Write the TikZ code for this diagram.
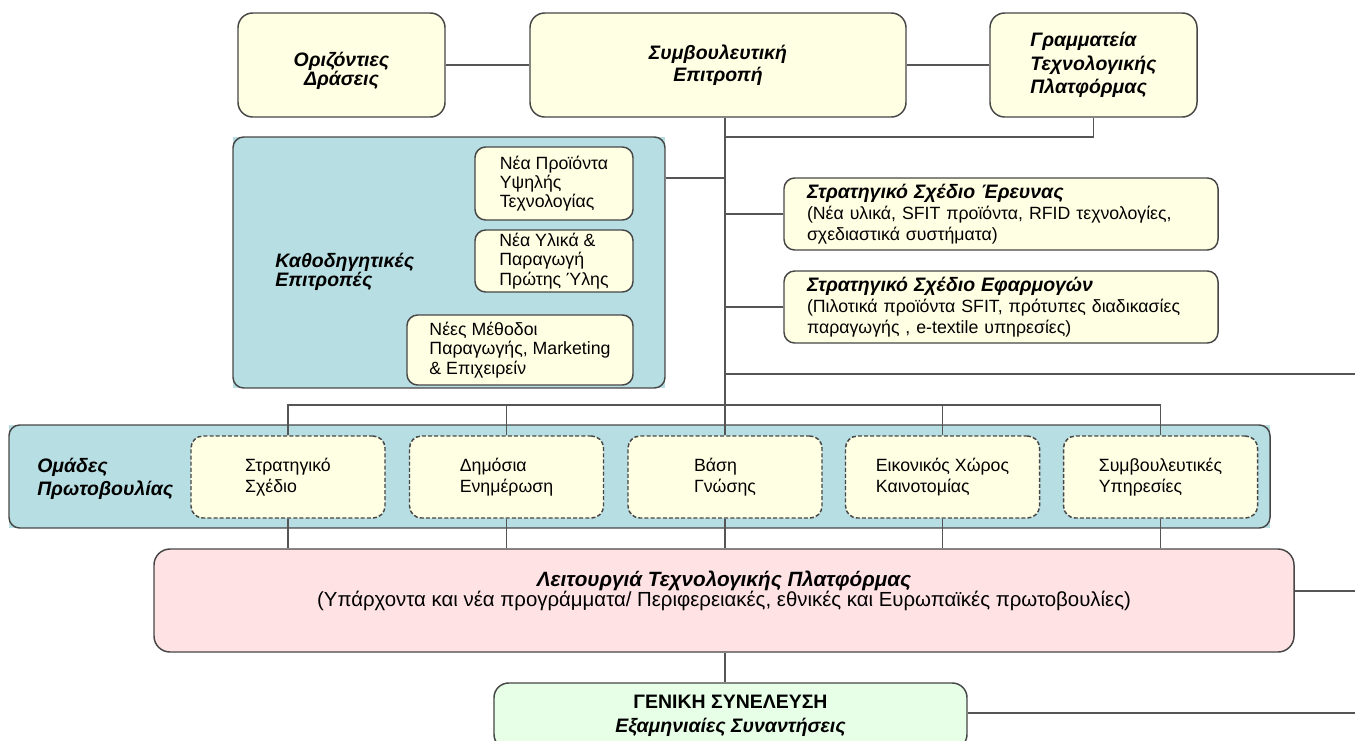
\documentclass[tikz,border=0pt]{standalone}
\usepackage{fontspec}
\setmainfont{Liberation Sans}
\definecolor{creamc}{RGB}{255,255,228}
\definecolor{tealc}{RGB}{183,222,226}
\definecolor{pinkc}{RGB}{255,226,228}
\definecolor{greenc}{RGB}{230,255,230}
\definecolor{linec}{RGB}{85,85,85}
\definecolor{bordc}{RGB}{70,70,70}
\newcommand\myhd{\fontsize{14.6}{16.2}\selectfont\bfseries\itshape}
\newcommand\myhdw{\fontsize{14.6}{17.6}\selectfont\bfseries\itshape}
\newcommand\myhdn{\fontsize{14.6}{13.8}\selectfont\bfseries\itshape}
\newcommand\myhdk{\fontsize{14.6}{14.5}\selectfont\bfseries\itshape}
\newcommand\mybd{\fontsize{13.3}{14.4}\selectfont}
\newcommand\mybdw{\fontsize{13.3}{15.8}\selectfont}
\begin{document}
\begin{tikzpicture}[x=0.75pt,y=-0.75pt,
  sz/.style n args={2}{minimum width=#1*0.75pt,minimum height=#2*0.75pt},
  box/.style={draw=bordc,line width=1.1pt,fill=creamc,rounded corners=11pt,inner sep=0pt,align=center},
  subbox/.style={draw=bordc,line width=1.1pt,fill=creamc,rounded corners=8pt,inner sep=0pt,align=left,font=\mybd},
  wide/.style={draw=bordc,line width=1.1pt,fill=creamc,rounded corners=8pt,inner sep=0pt,align=left,font=\mybdw},
  dbox/.style={draw=bordc,line width=1.1pt,fill=creamc,rounded corners=9pt,dash pattern=on 3pt off 1.6pt,inner sep=0pt,align=left,font=\mybdw},
  frame/.style={draw=bordc,line width=1.1pt,rounded corners=8pt,inner sep=0pt},
  lbl/.style={inner sep=0pt,align=left,anchor=west},
  conn/.style={draw=linec,line width=1.1pt}]
\useasboundingbox (0,0) rectangle (1355,740);
\clip (0,0) rectangle (1355,740);
\coordinate (spine) at (725,0);

% top row
\node[box,sz={207}{104}] (orz) at (341.5,65) {};
\node[inner sep=0pt,align=center,font=\myhdn] (orzt) at (341.5,71) {Οριζόντιες\\Δράσεις};
\node[box,sz={376}{104},font=\myhd] (symb) at (718,65) {Συμβουλευτική\\Επιτροπή};
\node[box,sz={207}{104},font=\myhdw,align=left] (gram) at (1093.5,65) {Γραμματεία\\Τεχνολογικής\\Πλατφόρμας};

% guiding committees
\fill[tealc] (233,137) rectangle (665,388);
\node[frame,sz={432}{251}] (kath) at (449,262.5) {};
\node[lbl,font=\myhdk] (kathl) at (275,272) {Καθοδηγητικές\\Επιτροπές};
\node[subbox,sz={158}{73}] (np) at (554,183.5) {Νέα Προϊόντα\\Υψηλής\\Τεχνολογίας};
\node[subbox,sz={158}{62}] (ny) at (554,261) {Νέα Υλικά \&\\Παραγωγή\\Πρώτης Ύλης};
\node[subbox,sz={226}{70}] (nm) at (520,350) {Νέες Μέθοδοι\\Παραγωγής, Marketing\\\& Επιχειρείν};

% strategic plans
\node[wide,sz={434}{72},text width=388*0.75pt] (ereu) at (1001,214) {{\myhd Στρατηγικό Σχέδιο Έρευνας}\\(Νέα υλικά, SFIT προϊόντα, RFID τεχνολογίες,\\σχεδιαστικά συστήματα)};
\node[wide,sz={434}{72},text width=388*0.75pt] (efar) at (1001,307) {{\myhd Στρατηγικό Σχέδιο Εφαρμογών}\\(Πιλοτικά προϊόντα SFIT, πρότυπες διαδικασίες\\παραγωγής , e-textile υπηρεσίες)};

% initiative groups
\fill[tealc] (9,425) rectangle (1270,528);
\node[frame,sz={1261}{103}] (omad) at (639.5,476.5) {};
\node[lbl,font=\fontsize{14.6}{17}\selectfont\bfseries\itshape] (omadl) at (37,479) {Ομάδες\\Πρωτοβουλίας};
\node[dbox,sz={194}{82}] (strat) at (288,477) {Στρατηγικό\\Σχέδιο};
\node[dbox,sz={194}{82}] (dimo) at (506.5,477) {Δημόσια\\Ενημέρωση};
\node[dbox,sz={194}{82}] (vasi) at (725,477) {Βάση\\Γνώσης};
\node[dbox,sz={194}{82}] (eik) at (942.5,477) {Εικονικός Χώρος\\Καινοτομίας};
\node[dbox,sz={194}{82}] (symv) at (1160.5,477) {Συμβουλευτικές\\Υπηρεσίες};

% platform operation
\node[box,fill=pinkc,sz={1140}{103},rounded corners=12pt] (pink) at (724,600.5) {};
\node[inner sep=0pt,align=center,font=\fontsize{15.3}{15.5}\selectfont] (pinkt) at (724,591) {{\fontsize{15.5}{15.5}\selectfont\bfseries\itshape Λειτουργιά Τεχνολογικής Πλατφόρμας}\\(Υπάρχοντα και νέα προγράμματα/ Περιφερειακές, εθνικές και Ευρωπαϊκές πρωτοβουλίες)};

% general assembly
\node[box,fill=greenc,sz={473}{66},font=\fontsize{14.6}{18}\selectfont\bfseries] (gen) at (730.5,716) {ΓΕΝΙΚΗ ΣΥΝΕΛΕΥΣΗ\\\itshape Εξαμηνιαίες Συναντήσεις};

% connectors
\coordinate (y137) at (0,137);
\coordinate (y178) at (0,178);
\coordinate (r374) at (1355,374);
\coordinate (bus) at (0,405);
\coordinate (r591) at (1355,591);
\coordinate (r713) at (1355,713);

\draw[conn] (orz.east) -- (symb.west);
\draw[conn] (symb.east) -- (gram.west);
\draw[conn] (symb.south -| spine) -- (vasi.north);
\draw[conn] (spine |- y137) -- (gram.south |- y137) -- (gram.south);
\draw[conn] (kath.east |- y178) -- (spine |- y178);
\draw[conn] (ereu.west) -- (ereu.west -| spine);
\draw[conn] (efar.west) -- (efar.west -| spine);
\draw[conn] (spine |- r374) -- (r374);
\draw[conn] (strat.north) -- (strat.north |- bus) -- (symv.north |- bus) -- (symv.north);
\draw[conn] (dimo.north) -- (dimo.north |- bus);
\draw[conn] (eik.north) -- (eik.north |- bus);
\foreach \n in {strat,dimo,vasi,eik,symv}
  \draw[conn] (\n.south) -- (\n.south |- pink.north);
\draw[conn] (pink.south -| spine) -- (gen.north -| spine);
\draw[conn] (pink.east |- r591) -- (r591);
\draw[conn] (gen.east |- r713) -- (r713);
\end{tikzpicture}
\end{document}
